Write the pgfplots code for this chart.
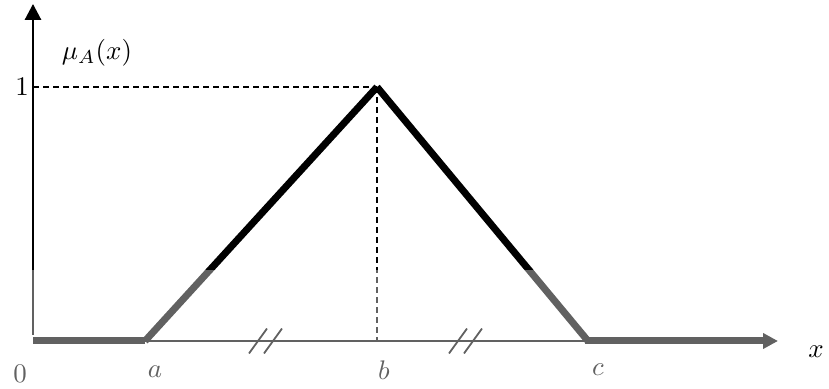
\documentclass[border=0pt]{standalone}
\usepackage{graphicx}
\usepackage{pgfplots}
\pgfplotsset{compat=1.18}
\usetikzlibrary{arrows.meta}
\newcommand{\lbl}[1]{\scalebox{2.7}{#1}}

\begin{document}
\begin{tikzpicture}
\begin{axis}[
  width=829bp, height=389bp, scale only axis,
  xmin=-33, xmax=796,
  ymin=-0.189, ymax=1.3425,
  hide axis, clip=false,
]
\path (rel axis cs:0,0) rectangle (rel axis cs:1,1);

% guide lines to the peak
\addplot[black, line width=1.5bp, dash pattern=on 6bp off 4bp] coordinates {(0,1) (344,1)};
\addplot[black, line width=1.5bp, dash pattern=on 6bp off 4bp] coordinates {(344,1) (344,0)};

% axes
\addplot[black, line width=2bp] coordinates {(0,0) (735,0)};
\addplot[black, line width=2.8bp, -{Triangle[width=16bp,length=16bp]}] coordinates {(0,0.024) (0,1.327)};

% equal-length marks
\addplot[black, line width=1.8bp] coordinates {(216,-0.049) (234,0.049)};
\addplot[black, line width=1.8bp] coordinates {(231,-0.049) (249,0.049)};
\addplot[black, line width=1.8bp] coordinates {(416,-0.049) (434,0.049)};
\addplot[black, line width=1.8bp] coordinates {(431,-0.049) (449,0.049)};

% triangular membership function
\addplot[black, line width=7bp] coordinates {(0,0) (112,0)};
\addplot[black, line width=7bp] coordinates {(112,0) (344,1)};
\addplot[black, line width=7bp] coordinates {(344,1) (555,0)};
\addplot[black, line width=7bp, -{Triangle[width=15bp,length=15bp]}] coordinates {(552,0) (745,0)};

% labels
\node at (axis cs:-13,-0.128) {\lbl{$0$}};
\node at (axis cs:122,-0.122) {\lbl{$a$}};
\node at (axis cs:351,-0.114) {\lbl{$b$}};
\node at (axis cs:565,-0.114) {\lbl{$c$}};
\node at (axis cs:783,-0.043) {\lbl{$x$}};
\node at (axis cs:-11,1.0) {\lbl{$1$}};
\node at (axis cs:64,1.134) {\lbl{$\mu_A(x)$}};

% faded lower band
\fill[white, opacity=0.38] (axis cs:-33,-0.189) rectangle (axis cs:767,0.28);
\end{axis}
\end{tikzpicture}
\end{document}
